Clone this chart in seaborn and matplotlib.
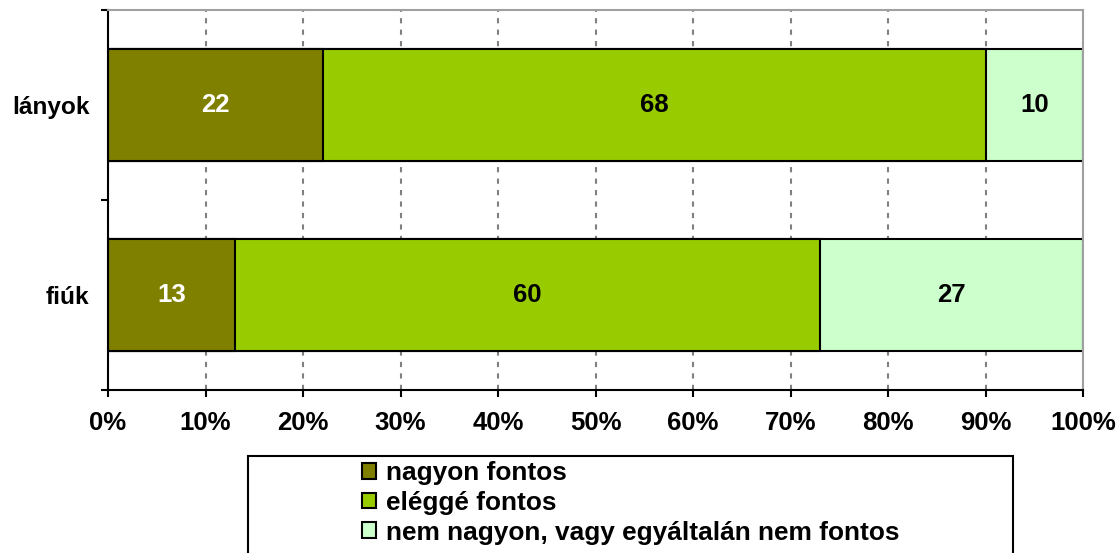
import numpy as np
import pandas as pd
import matplotlib
matplotlib.use("Agg")
import matplotlib.pyplot as plt
from matplotlib.patches import Rectangle, Patch
import seaborn as sns

groups = ["lányok", "fiúk"]
series = ["nagyon fontos", "eléggé fontos", "nem nagyon, vagy egyáltalán nem fontos"]
nagyon = [22, 13]
eleg = [68, 60]
nem = [10, 27]
colors = ["#808000", "#99CC00", "#CCFFCC"]
label_colors = ["white", "black", "black"]
xticklabels = ["0%", "10%", "20%", "30%", "40%", "50%", "60%", "70%", "80%", "90%", "100%"]

sns.set_style("white")
plt.rcParams["font.family"] = ["Liberation Sans", "DejaVu Sans"]
plt.rcParams["font.weight"] = "bold"
plt.rcParams["text.color"] = "black"
plt.rcParams["xtick.color"] = "black"
plt.rcParams["ytick.color"] = "black"
plt.rcParams["xtick.labelcolor"] = "black"
plt.rcParams["ytick.labelcolor"] = "black"

FS = 18.5

df = pd.DataFrame({"group": groups, series[0]: nagyon, series[1]: eleg, series[2]: nem})
cum = df[series].cumsum(axis=1)

fig = plt.figure(figsize=(11.18, 5.53), dpi=100)
ax = fig.add_axes([108 / 1118, 1 - 390 / 553, (1083 - 108) / 1118, 380 / 553])

# stacked bars: draw the cumulative totals back to front
for i in reversed(range(len(series))):
    sns.barplot(x=cum[series[i]], y=df["group"], orient="h", color=colors[i],
                edgecolor="black", linewidth=1.5, width=0.585, saturation=1, ax=ax)

# value labels in the middle of each segment
for i, s in enumerate(series):
    left = cum[s] - df[s]
    for j in range(len(groups)):
        ax.text(left[j] + df[s][j] / 2, j, str(df[s][j]), ha="center", va="center",
                fontsize=FS, fontweight="bold", color=label_colors[i])

ax.set_xlim(0, 100)
ax.set_ylim(1.5, -0.5)
ax.set_xlabel("")
ax.set_ylabel("")
ax.set_xticks(np.arange(0, 101, 10))
ax.set_xticklabels(xticklabels, fontsize=FS, fontweight="bold")
ax.set_yticks([0, 1])
ax.set_yticklabels(groups, fontsize=17.6, fontweight="bold")
ax.set_yticks([-0.5, 0.5, 1.5], minor=True)
ax.tick_params(axis="y", which="major", length=0, pad=13.5)
ax.tick_params(axis="y", which="minor", length=5, width=1.5, color="black", direction="out", left=True)
ax.tick_params(axis="x", which="major", length=5, width=1.5, color="black", direction="out", bottom=True, pad=10)

ax.set_axisbelow(True)
ax.xaxis.grid(True, color="#808080", linewidth=1.5, linestyle=(0, (2.5, 3)))
ax.yaxis.grid(False)

for side in ["left", "bottom"]:
    ax.spines[side].set_color("black")
    ax.spines[side].set_linewidth(1.5)
for side in ["top", "right"]:
    ax.spines[side].set_color("#A0A0A0")
    ax.spines[side].set_linewidth(1.5)
for sp in ax.spines.values():
    sp.set_visible(True)

# legend box (clipped at the bottom like the original)
fig.patches.append(Rectangle((248 / 1118, -0.05), (1013 - 248) / 1118, (0.05 + 1 - 456 / 553),
                             transform=fig.transFigure, facecolor="white",
                             edgecolor="black", linewidth=1.5))
handles = [Patch(facecolor=c, edgecolor="black", linewidth=1.5) for c in colors]
fig.legend(handles, series, loc="upper left", bbox_to_anchor=(362 / 1118, 1 - 461 / 553),
           frameon=False, handlelength=0.55, handleheight=0.55,
           handletextpad=0.38, labelspacing=0.22, borderpad=0, borderaxespad=0,
           prop={"weight": "bold", "size": 18.9})

fig.savefig("out.png", dpi=100)
